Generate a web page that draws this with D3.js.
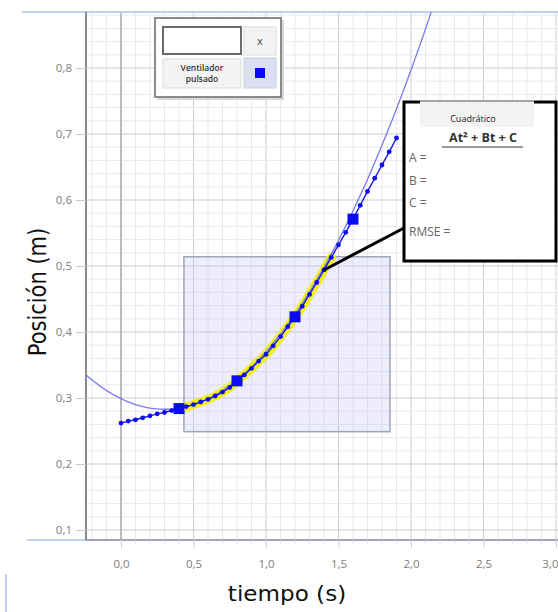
<!DOCTYPE html>
<html>
<head>
<meta charset="utf-8">
<script src="https://cdn.jsdelivr.net/npm/d3@7"></script>
<style>
  body { margin: 0; background: #fff; }
  svg { display: block; }
  .tick text { font-family: 'Open Sans', sans-serif; font-size: 11.5px; fill: #7c7c7c; }
</style>
</head>
<body>
<script>
// datos medidos (tiempo en s, posicion en m)
const timeValues = [0.00, 0.05, 0.10, 0.15, 0.20, 0.25, 0.30, 0.35, 0.40, 0.45,
                    0.50, 0.55, 0.60, 0.65, 0.70, 0.75, 0.80, 0.85, 0.90, 0.95,
                    1.00, 1.05, 1.10, 1.15, 1.20, 1.25, 1.30, 1.35, 1.40, 1.45,
                    1.50, 1.55, 1.60, 1.65, 1.70, 1.75, 1.80, 1.85, 1.90];
const positionValues = [0.262, 0.265, 0.267, 0.270, 0.273, 0.276, 0.278, 0.281, 0.284, 0.287,
                        0.290, 0.294, 0.298, 0.303, 0.309, 0.316, 0.326, 0.335, 0.345, 0.356,
                        0.366, 0.379, 0.393, 0.408, 0.423, 0.439, 0.457, 0.475, 0.494, 0.513,
                        0.532, 0.551, 0.571, 0.592, 0.613, 0.633, 0.653, 0.673, 0.694];
// puntos marcados con cuadrado
const markerTimes = [0.4, 0.8, 1.2, 1.6];
// region seleccionada para el ajuste
const selectionTime = [0.434, 1.855];
const selectionPos = [0.249, 0.514];
const highlightTime = [0.45, 1.45];
// ajuste cuadratico At^2 + Bt + C
const fitCoef = { A: 0.178, B: -0.107, C: 0.299 };

const xTickValues = [0, 0.5, 1, 1.5, 2, 2.5, 3];
const yTickValues = [0.1, 0.2, 0.3, 0.4, 0.5, 0.6, 0.7, 0.8];

const width = 558, height = 612;
const plot = { left: 86, right: 558, top: 12, bottom: 540 };

const x = d3.scaleLinear().domain([0, 3]).range([121, 556]);
const y = d3.scaleLinear().domain([0.1, 0.8]).range([530, 68]);

const data = timeValues.map(function(t, i) { return { t: t, p: positionValues[i] }; });
const comma = function(d) { return d3.format('.1f')(d).replace('.', ','); };

const svg = d3.select('body').append('svg')
              .attr('width', width)
              .attr('height', height);

svg.append('clipPath').attr('id', 'plotclip')
   .append('rect')
   .attr('x', plot.left).attr('y', plot.top)
   .attr('width', plot.right - plot.left).attr('height', plot.bottom - plot.top);

const grid = svg.append('g').attr('clip-path', 'url(#plotclip)');

// rejilla menor
const minorX = d3.range(-2, 31).map(function(i) { return i / 10; });
const minorY = d3.range(4, 45).map(function(i) { return i / 50; });

grid.selectAll('.vminor').data(minorX).enter().append('line')
    .attr('x1', function(d) { return x(d); }).attr('x2', function(d) { return x(d); })
    .attr('y1', plot.top).attr('y2', plot.bottom)
    .attr('stroke', function(d) { return Math.abs(d % 0.5) < 1e-6 || Math.abs(Math.abs(d % 0.5) - 0.5) < 1e-6 ? '#cdcdd4' : '#e8e8ee'; })
    .attr('stroke-width', 1);

grid.selectAll('.hminor').data(minorY).enter().append('line')
    .attr('y1', function(d) { return y(d); }).attr('y2', function(d) { return y(d); })
    .attr('x1', plot.left).attr('x2', plot.right)
    .attr('stroke', function(d) { return Math.abs(Math.round(d * 10) - d * 10) < 1e-6 ? '#cdcdd4' : '#e8e8ee'; })
    .attr('stroke-width', 1);

// linea t = 0
grid.append('line')
    .attr('x1', x(0)).attr('x2', x(0))
    .attr('y1', plot.top).attr('y2', plot.bottom)
    .attr('stroke', '#a4a4aa').attr('stroke-width', 1.3);

// bordes
svg.append('line').attr('x1', 22).attr('x2', plot.right)
   .attr('y1', plot.top).attr('y2', plot.top)
   .attr('stroke', '#c4ccf4').attr('stroke-width', 2);
svg.append('line').attr('x1', 27).attr('x2', plot.left)
   .attr('y1', plot.bottom).attr('y2', plot.bottom)
   .attr('stroke', '#c4ccf4').attr('stroke-width', 2);
svg.append('line').attr('x1', plot.left).attr('x2', plot.right)
   .attr('y1', plot.bottom).attr('y2', plot.bottom)
   .attr('stroke', '#7f8a9a').attr('stroke-width', 1.5);
svg.append('line').attr('x1', plot.left).attr('x2', plot.left)
   .attr('y1', plot.top).attr('y2', plot.bottom)
   .attr('stroke', '#8a8a92').attr('stroke-width', 2);
svg.append('rect').attr('x', 5).attr('y', 574).attr('width', 2).attr('height', 38)
   .attr('fill', '#c4ccf4');

// ejes
const xAxis = svg.append('g')
                 .attr('transform', 'translate(0,' + plot.bottom + ')')
                 .call(d3.axisBottom(x).tickValues(xTickValues).tickFormat(comma).tickSize(8).tickPadding(12));
xAxis.select('.domain').remove();
xAxis.selectAll('.tick line').attr('stroke', '#d0d0d0');
xAxis.select('.tick:last-of-type text').attr('text-anchor', 'end').attr('x', 2);

svg.append('g').selectAll('line')
   .data(minorX.filter(function(d) { return d >= 0; }))
   .enter().append('line')
   .attr('x1', function(d) { return x(d); }).attr('x2', function(d) { return x(d); })
   .attr('y1', plot.bottom).attr('y2', plot.bottom + 4)
   .attr('stroke', '#e0e0e0');

const yAxis = svg.append('g')
                 .attr('transform', 'translate(' + plot.left + ',0)')
                 .call(d3.axisLeft(y).tickValues(yTickValues).tickFormat(comma).tickSize(10).tickPadding(4));
yAxis.select('.domain').remove();
yAxis.selectAll('.tick line').attr('stroke', '#c8c8c8');

// titulos de ejes
svg.append('text')
   .attr('transform', 'translate(287,601) scale(1.1,1)')
   .attr('text-anchor', 'middle')
   .style('font-family', 'DejaVu Sans, sans-serif')
   .style('font-size', '21px')
   .attr('fill', '#111')
   .text('tiempo (s)');

svg.append('text')
   .attr('transform', 'translate(46,292) scale(1.22,1) rotate(-90)')
   .attr('text-anchor', 'middle')
   .style('font-family', 'DejaVu Sans, sans-serif')
   .style('font-size', '21px')
   .attr('fill', '#111')
   .text('Posición (m)');

const marks = svg.append('g').attr('clip-path', 'url(#plotclip)');

// rectangulo de seleccion
marks.append('rect')
     .attr('x', x(selectionTime[0]))
     .attr('y', y(selectionPos[1]))
     .attr('width', x(selectionTime[1]) - x(selectionTime[0]))
     .attr('height', y(selectionPos[0]) - y(selectionPos[1]))
     .attr('fill', 'rgba(195,195,245,0.3)')
     .attr('stroke', '#a2a4b8')
     .attr('stroke-width', 1.5);

const line = d3.line()
               .x(function(d) { return x(d.t); })
               .y(function(d) { return y(d.p); });

// resaltado amarillo
marks.append('path')
     .datum(data.filter(function(d) { return d.t >= highlightTime[0] - 1e-6 && d.t <= highlightTime[1] + 1e-6; }))
     .attr('d', line)
     .attr('fill', 'none')
     .attr('stroke', '#f2ee1a')
     .attr('stroke-width', 9)
     .attr('stroke-linecap', 'round')
     .attr('stroke-linejoin', 'round');

// curva de ajuste
const fitData = d3.range(-26, 222).map(function(i) {
  const t = i / 100;
  return { t: t, p: fitCoef.A * t * t + fitCoef.B * t + fitCoef.C };
});
marks.append('path')
     .datum(fitData)
     .attr('d', line)
     .attr('fill', 'none')
     .attr('stroke', '#7a7aee')
     .attr('stroke-width', 1.3);

// datos
marks.append('path')
     .datum(data)
     .attr('d', line)
     .attr('fill', 'none')
     .attr('stroke', '#1414f0')
     .attr('stroke-width', 1.4);

marks.selectAll('circle')
     .data(data)
     .enter().append('circle')
     .attr('cx', function(d) { return x(d.t); })
     .attr('cy', function(d) { return y(d.p); })
     .attr('r', 2.4)
     .attr('fill', '#0a0af5');

marks.selectAll('.marker')
     .data(data.filter(function(d) { return markerTimes.some(function(m) { return Math.abs(m - d.t) < 1e-6; }); }))
     .enter().append('rect')
     .attr('class', 'marker')
     .attr('x', function(d) { return x(d.t) - 5.5; })
     .attr('y', function(d) { return y(d.p) - 5.5; })
     .attr('width', 11)
     .attr('height', 11)
     .attr('fill', '#0a0af5');

// caja del ajuste
const anchor = data.find(function(d) { return Math.abs(d.t - 1.4) < 1e-6; });
svg.append('line')
   .attr('x1', x(anchor.t)).attr('y1', y(anchor.p))
   .attr('x2', 404).attr('y2', 228)
   .attr('stroke', '#000').attr('stroke-width', 3);

const box = svg.append('g');
box.append('rect')
   .attr('x', 404).attr('y', 102).attr('width', 152).attr('height', 159)
   .attr('fill', '#fff').attr('stroke', '#000').attr('stroke-width', 3);
box.append('rect')
   .attr('x', 420).attr('y', 100).attr('width', 114).attr('height', 27)
   .attr('fill', '#f3f3f3');
box.append('line').attr('x1', 420).attr('x2', 534).attr('y1', 101).attr('y2', 101)
   .attr('stroke', '#555').attr('stroke-width', 1);
box.append('text')
   .attr('x', 473).attr('y', 122)
   .attr('text-anchor', 'middle')
   .style('font-family', 'Open Sans, sans-serif').style('font-size', '9px')
   .attr('fill', '#222')
   .text('Cuadrático');
box.append('text')
   .attr('x', 483).attr('y', 142)
   .attr('text-anchor', 'middle')
   .style('font-family', 'Open Sans, sans-serif').style('font-size', '12.5px').style('font-weight', 'bold')
   .attr('fill', '#333')
   .text('At² + Bt + C');
box.append('line').attr('x1', 442).attr('x2', 523).attr('y1', 147).attr('y2', 147)
   .attr('stroke', '#333').attr('stroke-width', 1.2);

const fitLabels = ['A =', 'B =', 'C =', 'RMSE ='];
const fitLabelY = [162, 185, 207, 236];
box.selectAll('.fitlabel')
   .data(fitLabels)
   .enter().append('text')
   .attr('x', 409)
   .attr('y', function(d, i) { return fitLabelY[i]; })
   .style('font-family', 'Open Sans, sans-serif').style('font-size', '12px')
   .attr('fill', '#666')
   .text(function(d) { return d; });

// leyenda
const legend = svg.append('g');
legend.append('rect')
      .attr('x', 157).attr('y', 20).attr('width', 127).attr('height', 80)
      .attr('fill', '#d8d8d8');
legend.append('rect')
      .attr('x', 155).attr('y', 18).attr('width', 126).attr('height', 79)
      .attr('fill', '#fff').attr('stroke', '#8a8a8a').attr('stroke-width', 2);
legend.append('rect')
      .attr('x', 163).attr('y', 27).attr('width', 78).attr('height', 27)
      .attr('fill', '#fff').attr('stroke', '#6a6a6a').attr('stroke-width', 2);
legend.append('rect')
      .attr('x', 244).attr('y', 27).attr('width', 32).attr('height', 28)
      .attr('fill', '#f3f3f3').attr('stroke', '#dcdcdc');
legend.append('text')
      .attr('x', 260).attr('y', 45)
      .attr('text-anchor', 'middle')
      .style('font-family', 'Open Sans, sans-serif').style('font-size', '11px')
      .attr('fill', '#444')
      .text('x');
legend.append('rect')
      .attr('x', 163).attr('y', 59).attr('width', 78).attr('height', 29)
      .attr('fill', '#f4f4f4').attr('stroke', '#dcdcdc');
legend.append('text')
      .attr('x', 202).attr('y', 71)
      .attr('text-anchor', 'middle')
      .style('font-family', 'Open Sans, sans-serif').style('font-size', '8.5px').style('font-weight', '600')
      .attr('fill', '#333')
      .text('Ventilador');
legend.append('text')
      .attr('x', 202).attr('y', 82)
      .attr('text-anchor', 'middle')
      .style('font-family', 'Open Sans, sans-serif').style('font-size', '8.5px').style('font-weight', '600')
      .attr('fill', '#333')
      .text('pulsado');
legend.append('rect')
      .attr('x', 244).attr('y', 58).attr('width', 32).attr('height', 30)
      .attr('fill', '#dcdff3').attr('stroke', '#c8cbe0');
legend.append('rect')
      .attr('x', 255).attr('y', 68).attr('width', 10).attr('height', 10)
      .attr('fill', '#0a0af5');
</script>
</body>
</html>
